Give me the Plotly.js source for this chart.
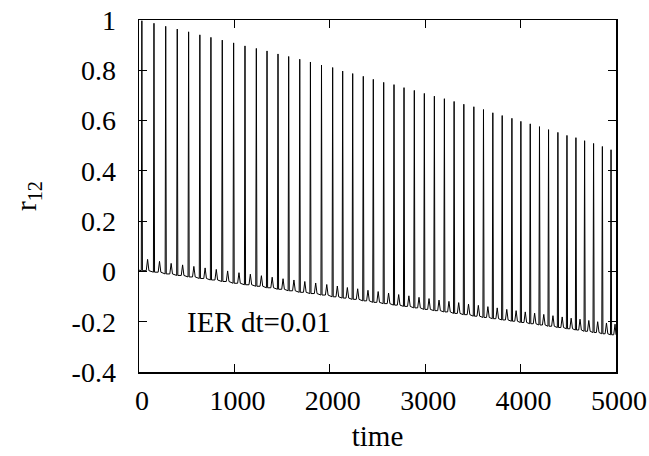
<!DOCTYPE html>
<html>
<head>
<meta charset="utf-8">
<script src="https://cdn.plot.ly/plotly-3.0.1.min.js"></script>
<style>html,body{margin:0;padding:0;background:#fff;}#chart{width:649px;height:456px;}</style>
</head>
<body>
<div id="chart"></div>
<script>
// Times of the large spikes
const spikeT = [30,157,280,401,520,638,754,873,992,1111,1230,1342,1457,1569,1685,1797,1913,2030,2135,2240,2351,2456,2565,2673,2778,2886,2991,3096,3201,3303,3405,3510,3611,3709,3807,3909,4003,4101,4198,4293,4391,4486,4580,4671,4765,4857,4948];
// Peak values of the large spikes
const spikePeak = [0.997,0.987,0.975,0.964,0.953,0.941,0.931,0.920,0.909,0.897,0.887,0.877,0.865,0.855,0.844,0.833,0.821,0.811,0.797,0.787,0.776,0.764,0.752,0.743,0.731,0.720,0.708,0.697,0.687,0.676,0.665,0.655,0.644,0.631,0.620,0.609,0.597,0.587,0.576,0.564,0.553,0.541,0.532,0.520,0.509,0.497,0.484];
// Baseline level at each spike foot
const baseline = [0.003,-0.003,-0.010,-0.016,-0.022,-0.028,-0.034,-0.040,-0.047,-0.053,-0.059,-0.065,-0.071,-0.077,-0.083,-0.088,-0.094,-0.101,-0.106,-0.111,-0.117,-0.123,-0.128,-0.134,-0.139,-0.145,-0.151,-0.156,-0.161,-0.167,-0.172,-0.178,-0.183,-0.188,-0.193,-0.198,-0.203,-0.208,-0.213,-0.218,-0.223,-0.228,-0.233,-0.238,-0.243,-0.248,-0.252];
// Small bumps between spikes: times and peak values
const bumpT = [90,215,337,457,575,693,810,929,1048,1167,1283,1396,1510,1624,1738,1852,1968,2079,2184,2292,2400,2507,2616,2722,2829,2935,3040,3145,3249,3351,3454,3557,3657,3755,3855,3953,4049,4147,4243,4339,4436,4530,4623,4715,4808,4900,4990];
const bumpPeak = [0.048,0.040,0.032,0.026,0.020,0.014,0.008,0.002,-0.005,-0.011,-0.017,-0.023,-0.029,-0.034,-0.040,-0.046,-0.052,-0.058,-0.064,-0.069,-0.075,-0.080,-0.086,-0.092,-0.097,-0.103,-0.108,-0.114,-0.119,-0.124,-0.130,-0.135,-0.140,-0.145,-0.151,-0.156,-0.161,-0.166,-0.171,-0.176,-0.181,-0.186,-0.190,-0.195,-0.200,-0.205,-0.210];
const startPoint = [0, 0.005];
const endT = 5000;

const xTicks = [0,1000,2000,3000,4000,5000];
const yTicks = [-0.4,-0.2,0,0.2,0.4,0.6,0.8,1];
const yTickText = ['-0.4','-0.2','0','0.2','0.4','0.6','0.8','1'];

const xs = [startPoint[0]], ys = [startPoint[1]];
const hw = 6, bw = 14;
for (let i = 0; i < spikeT.length; i++) {
  xs.push(spikeT[i]-hw, spikeT[i], spikeT[i]+hw);
  ys.push(baseline[i], spikePeak[i], baseline[i]);
  if (i < bumpT.length) {
    xs.push(bumpT[i]-bw, bumpT[i], Math.min(bumpT[i]+bw, endT));
    ys.push(baseline[i], bumpPeak[i], baseline[i]);
  }
}

const fam = '"Liberation Serif", "Times New Roman", Times, serif';
const tickFont = {family: fam, size: 28, color: '#000'};
const textFont = {family: fam, size: 29, color: '#000'};
const trace = {x: xs, y: ys, type: 'scatter', mode: 'lines', line: {color: '#000', width: 1}, hoverinfo: 'skip'};
const layout = {
  width: 649, height: 456,
  margin: {l: 139, r: 33, t: 20, b: 84},
  paper_bgcolor: '#fff', plot_bgcolor: '#fff',
  font: tickFont,
  showlegend: false,
  xaxis: {range: [0, 5000], tickvals: xTicks, ticks: 'inside', ticklen: 8, tickcolor: '#000',
    mirror: 'ticks', showline: true, linecolor: '#000', linewidth: 1.5, showgrid: false, zeroline: false,
    tickfont: tickFont, ticklabelstandoff: 3, ticklabelshift: 3,
    title: {text: 'time', font: textFont, standoff: 10}},
  yaxis: {range: [-0.4, 1], tickvals: yTicks, ticktext: yTickText, ticks: 'inside', ticklen: 8, tickcolor: '#000',
    mirror: 'ticks', showline: true, linecolor: '#000', linewidth: 1.5, showgrid: false, zeroline: false,
    tickfont: tickFont, ticklabelstandoff: 16,
    title: {text: 'r<sub>12</sub>', font: textFont, standoff: 26}},
  annotations: [{x: 478, y: -0.2, xref: 'x', yref: 'y', xanchor: 'left', yanchor: 'middle',
    text: 'IER dt=0.01', showarrow: false, font: textFont}]
};
Plotly.newPlot('chart', [trace], layout, {staticPlot: true, displayModeBar: false});
</script>
</body>
</html>
